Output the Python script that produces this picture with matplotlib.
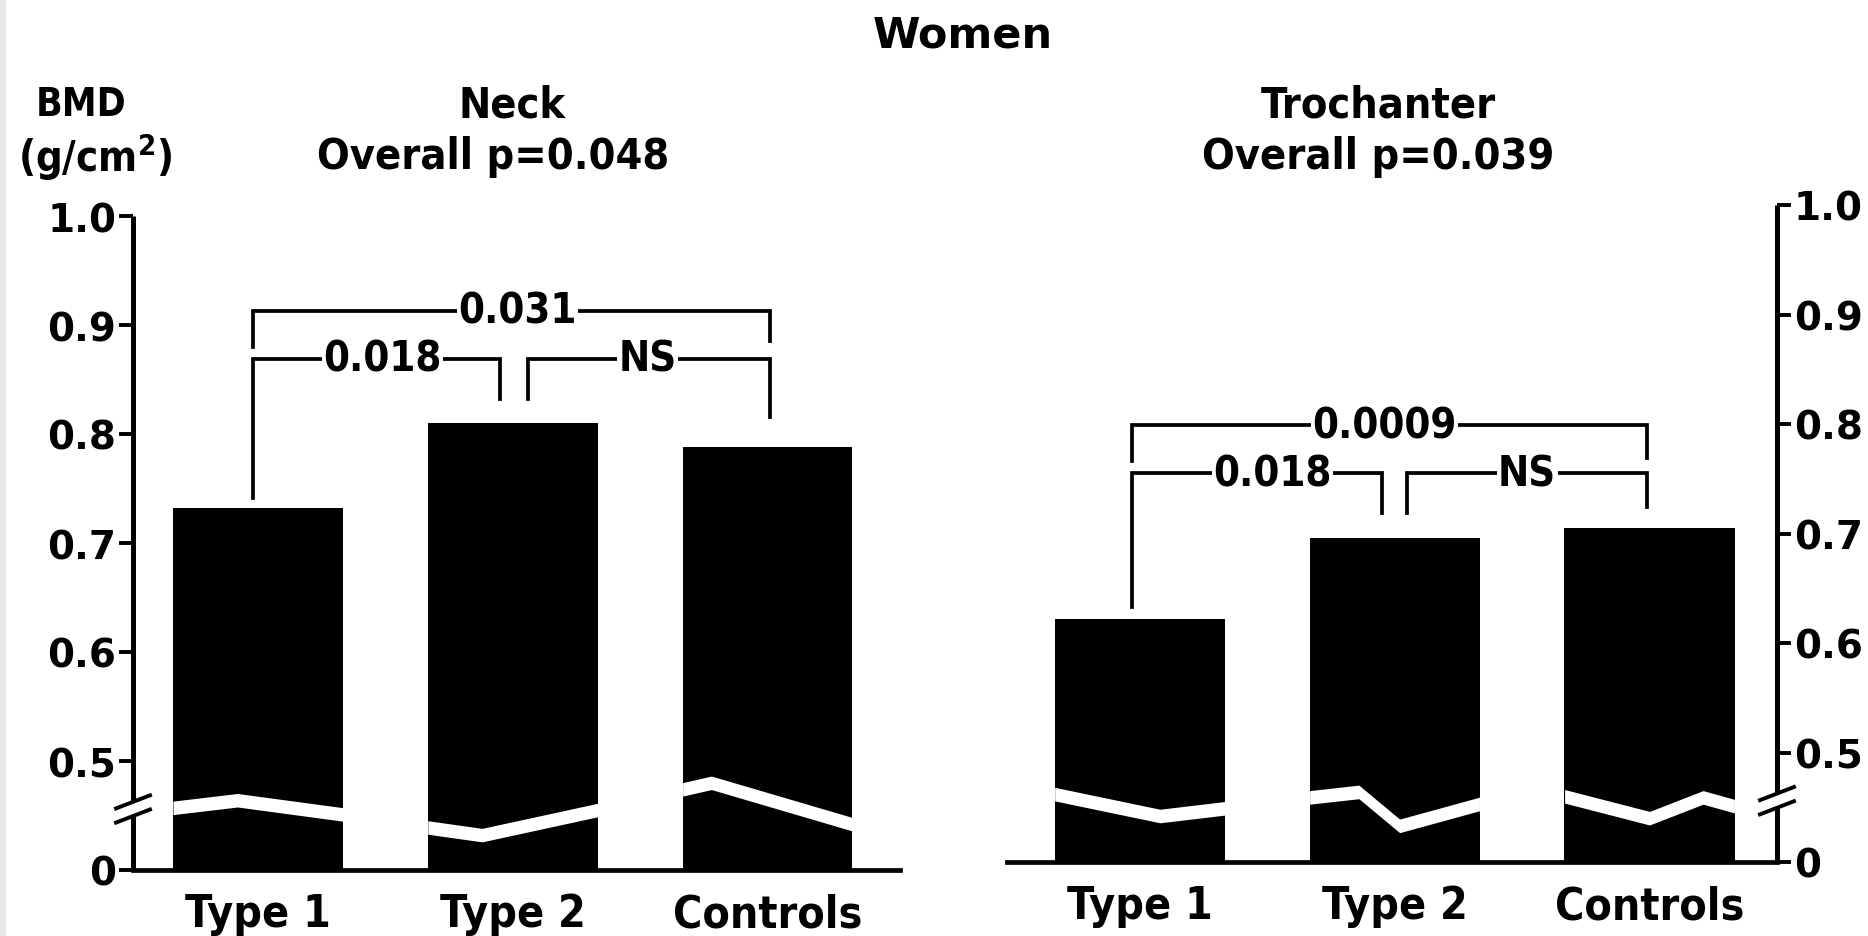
import numpy as np
import matplotlib
matplotlib.use('Agg')
import matplotlib.pyplot as plt
from matplotlib.patches import Rectangle

W, H = 1868, 937

groups = ['Type 1', 'Type 2', 'Controls']
neck_bmd = [0.732, 0.810, 0.788]
troch_bmd = [0.622, 0.696, 0.705]
tick_vals = [0.5, 0.6, 0.7, 0.8, 0.9, 1.0]
tick_text = ['0.5', '0.6', '0.7', '0.8', '0.9', '1.0']

# the broken axis puts zero at 0.4, the gap sits between BREAK_LO and BREAK_HI
ZERO_AT = 0.4
BREAK_LO, BREAK_HI = 0.450, 0.463

# white break band across each bar: x offsets inside the bar, band level
neck_breaks = [
    ([-0.333, -0.08, 0.333], [0.457, 0.464, 0.451]),
    ([-0.333, -0.12, 0.333], [0.439, 0.432, 0.455]),
    ([-0.333, -0.22, 0.333], [0.474, 0.480, 0.442]),
]
troch_breaks = [
    ([-0.333, 0.08, 0.333], [0.462, 0.442, 0.449]),
    ([-0.333, -0.14, 0.02, 0.333], [0.459, 0.464, 0.433, 0.453]),
    ([-0.333, 0.0, 0.21, 0.333], [0.460, 0.440, 0.459, 0.451]),
]

# brackets: left x, right x, level, left leg end, right leg end, label, label x
neck_brackets = [
    (-0.02, 2.01, 0.913, 0.880, 0.885, '0.031', 1.02),
    (-0.02, 0.95, 0.869, 0.741, 0.832, '0.018', 0.49),
    (1.06, 2.01, 0.869, 0.832, 0.816, 'NS', 1.53),
]
troch_brackets = [
    (-0.03, 1.99, 0.799, 0.766, 0.769, '0.0009', 0.96),
    (-0.03, 0.95, 0.755, 0.633, 0.719, '0.018', 0.52),
    (1.05, 1.99, 0.755, 0.719, 0.724, 'NS', 1.52),
]

BAR_W = 0.667
LABEL_FONT = dict(family='DejaVu Sans', fontstretch='condensed', weight='bold')
TICK_FONT = dict(family='DejaVu Sans', weight='bold', size=28)

fig = plt.figure(figsize=(W / 100, H / 100), dpi=100)
fig.patches.append(Rectangle((0, 0), 5 / W, 1, transform=fig.transFigure,
                             color='#e9e9e9', zorder=0))


def add_px_axes(x0, x1, ybot, ytop):
    return fig.add_axes([x0 / W, 1 - ybot / H, (x1 - x0) / W, (ybot - ytop) / H])


def draw_panel(ax, values, breaks, brackets, xlim, side):
    x = np.arange(len(groups))
    ax.set_xlim(*xlim)
    ax.set_ylim(ZERO_AT, 1.0)
    ax.bar(x, np.array(values) - ZERO_AT, bottom=ZERO_AT, width=BAR_W,
           color='black', zorder=2)

    for xi, (offs, lev) in zip(x, breaks):
        bx = xi + np.array(offs)
        lev = np.array(lev)
        ax.fill_between(bx, lev - 0.0062, lev + 0.0062, color='white',
                        lw=0, zorder=3)

    for xl, xr, lev, yl, yr, lab, xt in brackets:
        ax.plot([xl, xl, xr, xr], [yl, lev, lev, yr], color='black',
                lw=2.7, solid_joinstyle='miter', zorder=4)
        ax.text(xt, lev, lab, ha='center', va='center', size=30, zorder=5,
                bbox=dict(facecolor='white', edgecolor='none', pad=1.0),
                **LABEL_FONT)

    for s in ['top', 'left', 'right']:
        ax.spines[s].set_visible(False)
    ax.spines['bottom'].set_linewidth(3.4)

    ax.set_xticks(x)
    ax.set_xticklabels(groups, size=32, **LABEL_FONT)
    ax.tick_params(axis='x', length=0, pad=16)

    ax.set_yticks([ZERO_AT] + tick_vals)
    ax.set_yticklabels(['0'] + tick_text, **TICK_FONT)
    ax.tick_params(axis='y', length=10, width=2.8, pad=2)

    # broken vertical axis
    ax_x = 0 if side == 'left' else 1
    if side == 'right':
        ax.yaxis.tick_right()
    tr = ax.get_yaxis_transform()
    ax.plot([ax_x, ax_x], [ZERO_AT, BREAK_LO], color='black', lw=3.6,
            transform=tr, clip_on=False, solid_capstyle='butt')
    ax.plot([ax_x, ax_x], [BREAK_HI, 1.0], color='black', lw=3.6,
            transform=tr, clip_on=False, solid_capstyle='butt')
    dx = 17 / ax.bbox.width
    for yb in (BREAK_LO, BREAK_HI):
        ax.plot([ax_x - dx, ax_x + dx], [yb - 0.0065, yb + 0.0055],
                color='black', lw=2.8, transform=tr, clip_on=False)


ax1 = add_px_axes(133, 900, 871, 217)
draw_panel(ax1, neck_bmd, neck_breaks, neck_brackets, (-0.49, 2.52), 'left')

ax2 = add_px_axes(1007, 1777, 863, 206)
draw_panel(ax2, troch_bmd, troch_breaks, troch_brackets, (-0.52, 2.50), 'right')


def label(x, y, s, **kw):
    fig.text(x / W, 1 - y / H, s, ha='center', va='center', **kw)


label(963, 36, 'Women', family='DejaVu Sans', weight='bold', size=31)
label(81, 105, 'BMD', size=28, **LABEL_FONT)
label(95, 157, '(g/cm$^\\mathregular{2}$)', size=30, **LABEL_FONT)
label(512, 105, 'Neck', size=31, **LABEL_FONT)
label(493, 157, 'Overall p=0.048', size=31, **LABEL_FONT)
label(1378, 105, 'Trochanter', size=31, **LABEL_FONT)
label(1378, 157, 'Overall p=0.039', size=31, **LABEL_FONT)

fig.savefig('out.png', dpi=100, facecolor='white')
